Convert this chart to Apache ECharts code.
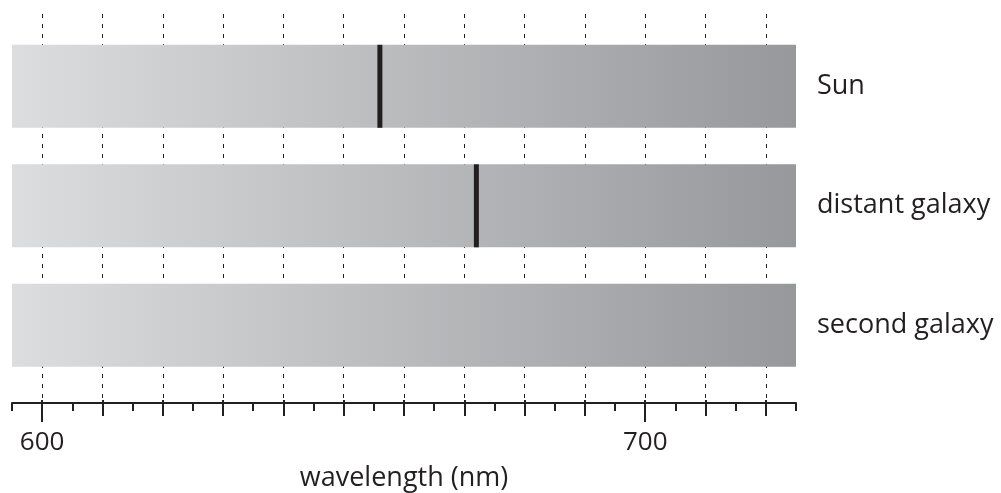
<!DOCTYPE html>
<html><head><meta charset="utf-8">
<script src="https://cdn.jsdelivr.net/npm/echarts@6/dist/echarts.min.js"></script>
<style>html,body{margin:0;padding:0;background:#fff}#c{width:1001px;height:493px}</style>
</head><body><div id="c"></div>
<script>
// ---- data ----
const rowNames = ['Sun', 'distant galaxy', 'second galaxy'];
const rowIndex = [0, 1, 2];
const bandStart = [595, 595, 595];
const bandEnd = [725, 725, 725];
const lineWavelength = [656, 672];   // dark line in Sun and distant galaxy
const lineRow = [0, 1];
const gridTicks = [600, 610, 620, 630, 640, 650, 660, 670, 680, 690, 700, 710, 720];
const longTicks = [600, 700];
const minorTicks = [595, 605, 615, 625, 635, 645, 655, 665, 675, 685, 695, 705, 715, 725];
const tickLabels = [600, 700];

// ---- style ----
const INK = '#231f20';
const FONT = 'Open Sans';
const BAND_H = 83;

const chart = echarts.init(document.getElementById('c'), null, {renderer: 'canvas'});

function xAxisBase(extra) {
  return Object.assign({
    type: 'value', gridIndex: 0, position: 'bottom', min: 595, max: 725,
    axisLine: {show: false, onZero: false},
    axisLabel: {show: false},
    splitLine: {show: false},
    axisTick: {show: false}
  }, extra);
}

const option = {
  animation: false,
  backgroundColor: '#fff',
  grid: {left: 12, right: 205, top: 14, bottom: 90, containLabel: false, outerBoundsMode: 'none'},
  xAxis: [
    xAxisBase({
      axisLine: {show: true, onZero: false, lineStyle: {color: INK, width: 2}},
      axisTick: {show: true, customValues: gridTicks, length: 13, lineStyle: {color: INK, width: 2}},
      axisLabel: {show: true, customValues: tickLabels, margin: 27, fontSize: 26, color: INK, fontFamily: FONT},
      splitLine: {show: true, lineStyle: {color: INK, width: 1, type: [4, 6]}},
      name: 'wavelength (nm)', nameLocation: 'middle', nameGap: 62,
      nameTextStyle: {fontSize: 27, color: INK, fontFamily: FONT}
    }),
    xAxisBase({axisTick: {show: true, customValues: gridTicks, inside: true, length: 3, lineStyle: {color: INK, width: 2}}}),
    xAxisBase({axisTick: {show: true, customValues: longTicks, length: 19, lineStyle: {color: INK, width: 2}}}),
    xAxisBase({axisTick: {show: true, customValues: minorTicks, length: 8, lineStyle: {color: INK, width: 2}}})
  ],
  yAxis: {
    type: 'value', inverse: true, min: -0.605, max: 2.65, position: 'right',
    axisLine: {show: false, onZero: false}, axisTick: {show: false}, splitLine: {show: false},
    axisLabel: {
      customValues: rowIndex, margin: 21, fontSize: 27, color: INK, fontFamily: FONT,
      formatter: v => rowNames[Math.round(v)]
    }
  },
  series: [
    {
      type: 'custom', xAxisIndex: 0, yAxisIndex: 0, z: 2,
      data: rowIndex.map((r, i) => [bandStart[i], bandEnd[i], r]),
      renderItem: function (params, api) {
        const p0 = api.coord([api.value(0), api.value(2)]);
        const p1 = api.coord([api.value(1), api.value(2)]);
        return {
          type: 'rect',
          shape: {x: p0[0], y: p0[1] - BAND_H / 2, width: p1[0] - p0[0], height: BAND_H},
          style: {
            fill: new echarts.graphic.LinearGradient(0, 0, 1, 0, [
              {offset: 0, color: '#dcdddf'},
              {offset: 1, color: '#97989b'}
            ])
          }
        };
      }
    },
    {
      type: 'custom', xAxisIndex: 0, yAxisIndex: 0, z: 3,
      data: lineWavelength.map((w, i) => [w, lineRow[i]]),
      renderItem: function (params, api) {
        const p = api.coord([api.value(0), api.value(1)]);
        return {
          type: 'rect',
          shape: {x: p[0] - 2.5, y: p[1] - BAND_H / 2, width: 5, height: BAND_H},
          style: {fill: INK}
        };
      }
    }
  ]
};
chart.setOption(option);
</script>
</body></html>
